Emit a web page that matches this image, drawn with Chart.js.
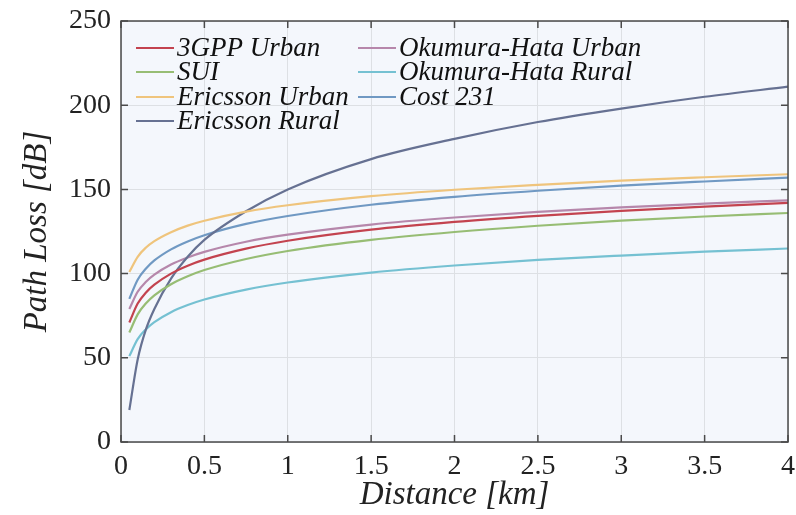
<!DOCTYPE html>
<html>
<head>
<meta charset="utf-8">
<script src="https://cdn.jsdelivr.net/npm/chart.js@4.4.1/dist/chart.umd.min.js"></script>
<style>
  html, body { margin: 0; padding: 0; background: #ffffff; }
  #wrap { width: 796px; height: 515px; }
</style>
</head>
<body>
<div id="wrap"><canvas id="Loss"></canvas></div>
<script>
const Loss = document.getElementById('Loss');

// distance in km, path loss in dB
const distanceKm = [0.05, 0.1, 0.15, 0.2, 0.3, 0.4, 0.5, 0.75, 1, 1.5, 2, 2.5, 3, 3.5, 4];
const gppUrban = [71, 82.2, 88.8, 93.4, 100, 104.7, 108.3, 114.8, 119.5, 126.1, 130.7, 134.3, 137.3, 139.8, 142];
const sui = [65, 75.8, 82.4, 87.1, 93.7, 98.4, 102.1, 108.7, 113.4, 120, 124.7, 128.4, 131.4, 133.9, 136];
const ericssonUrban = [101, 110, 115.5, 119.3, 124.6, 128.5, 131.4, 136.8, 140.6, 146, 149.8, 152.7, 155.2, 157.2, 159];
const ericssonRural = [19, 49, 67, 79, 97, 110, 120, 137, 150, 168, 180, 190, 198, 205, 211];
const hataUrban = [79, 89.2, 95.2, 99.4, 105.4, 109.6, 112.9, 118.9, 123.1, 129.1, 133.3, 136.6, 139.3, 141.5, 143.5];
const hataRural = [51, 61.1, 67, 71.2, 77.1, 81.3, 84.6, 90.5, 94.7, 100.6, 104.8, 108.1, 110.7, 113, 114.9];
const cost231 = [85, 96.4, 103, 107.8, 114.4, 119.1, 122.8, 129.5, 134.2, 140.9, 145.6, 149.2, 152.2, 154.7, 157];

const xTicks = [0, 0.5, 1, 1.5, 2, 2.5, 3, 3.5, 4];
const yTicks = [0, 50, 100, 150, 200, 250];

const seriesNames = ['3GPP Urban', 'SUI', 'Ericsson Urban', 'Ericsson Rural',
    'Okumura-Hata Urban', 'Okumura-Hata Rural', 'Cost 231'];
const seriesValues = [gppUrban, sui, ericssonUrban, ericssonRural, hataUrban, hataRural, cost231];
const seriesColors = ['#c3434f', '#97bd74', '#efc47c', '#667192', '#b687ab', '#75c1d2', '#7099c3'];

const serif = "'Liberation Serif', 'DejaVu Serif', serif";

const toPoints = (vals) => distanceKm.map((d, i) => ({ x: d, y: vals[i] }));

// panel background, closed frame, inward ticks and a two-column legend inside the plot
const framePlugin = {
    id: 'frame',
    beforeDraw(chart) {
        const { ctx, chartArea: a } = chart;
        ctx.save();
        ctx.fillStyle = '#f4f7fc';
        ctx.fillRect(a.left, a.top, a.right - a.left, a.bottom - a.top);
        ctx.restore();
    },
    afterDraw(chart) {
        const { ctx, chartArea: a, scales } = chart;
        ctx.save();
        ctx.strokeStyle = '#4a4a4a';
        ctx.lineWidth = 1.5;
        ctx.strokeRect(a.left, a.top, a.right - a.left, a.bottom - a.top);
        const len = 7;
        ctx.beginPath();
        xTicks.forEach(v => {
            const px = scales.x.getPixelForValue(v);
            ctx.moveTo(px, a.bottom); ctx.lineTo(px, a.bottom - len);
            ctx.moveTo(px, a.top); ctx.lineTo(px, a.top + len);
        });
        yTicks.forEach(v => {
            const py = scales.y.getPixelForValue(v);
            ctx.moveTo(a.left, py); ctx.lineTo(a.left + len, py);
            ctx.moveTo(a.right, py); ctx.lineTo(a.right - len, py);
        });
        ctx.stroke();

        // legend
        ctx.font = 'italic 27px ' + serif;
        ctx.textBaseline = 'middle';
        ctx.fillStyle = '#111';
        const cols = [a.left + 15, a.left + 237];
        const rows = [a.top + 27, a.top + 51, a.top + 76, a.top + 100];
        seriesNames.forEach((name, i) => {
            const c = i < 4 ? 0 : 1;
            const r = i < 4 ? i : i - 4;
            const x0 = cols[c], y0 = rows[r];
            ctx.strokeStyle = seriesColors[i];
            ctx.lineWidth = 2.2;
            ctx.beginPath();
            ctx.moveTo(x0, y0); ctx.lineTo(x0 + 38, y0);
            ctx.stroke();
            ctx.fillText(name, x0 + 41, y0 + 1);
        });
        ctx.restore();
    }
};

new Chart(Loss, {
    type: 'line',
    data: {
        datasets: seriesNames.map((name, i) => ({
            label: name,
            data: toPoints(seriesValues[i]),
            borderColor: seriesColors[i],
            backgroundColor: seriesColors[i],
            borderWidth: 2.2,
            pointRadius: 0,
            cubicInterpolationMode: 'monotone',
            fill: false
        }))
    },
    options: {
        responsive: true,
        maintainAspectRatio: false,
        devicePixelRatio: 1,
        animation: false,
        layout: { padding: { top: 21, right: 8, left: 0, bottom: 0 } },
        plugins: {
            legend: { display: false },
            tooltip: { enabled: false }
        },
        scales: {
            x: {
                type: 'linear',
                min: 0,
                max: 4,
                afterBuildTicks: (s) => { s.ticks = xTicks.map(v => ({ value: v })); },
                afterFit: (s) => { s.height = 73; s.paddingLeft = 0; s.paddingRight = 0; },
                ticks: {
                    color: '#222', padding: 8, maxRotation: 0,
                    font: { family: serif, size: 28 },
                    callback: (v) => String(v)
                },
                grid: { color: '#dde0e4', drawTicks: false },
                border: { display: false },
                title: {
                    display: true,
                    text: 'Distance [km]',
                    color: '#222',
                    padding: { top: 0, bottom: 0 },
                    font: { family: serif, size: 33, style: 'italic' }
                }
            },
            y: {
                min: 0,
                max: 250,
                afterBuildTicks: (s) => { s.ticks = yTicks.map(v => ({ value: v })); },
                afterFit: (s) => { s.width = 121; s.paddingTop = 0; s.paddingBottom = 0; },
                ticks: {
                    color: '#222', padding: 10,
                    font: { family: serif, size: 28 },
                    callback: (v) => String(v)
                },
                grid: { color: '#dde0e4', drawTicks: false },
                border: { display: false },
                title: {
                    display: true,
                    text: 'Path Loss [dB]',
                    color: '#222',
                    padding: { top: 18, bottom: 0 },
                    font: { family: serif, size: 33, style: 'italic' }
                }
            }
        }
    },
    plugins: [framePlugin]
});
</script>
</body>
</html>
